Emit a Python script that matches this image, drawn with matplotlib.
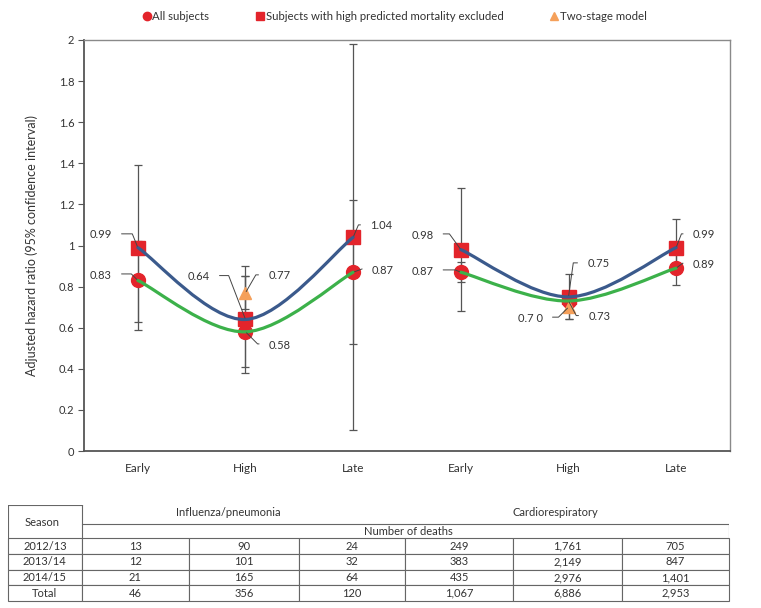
import numpy as np
import matplotlib
matplotlib.use('Agg')
import matplotlib.pyplot as plt
from matplotlib.path import Path
from matplotlib.patches import PathPatch
from matplotlib.lines import Line2D

plt.rcParams['font.family'] = ['Lato', 'DejaVu Sans']

# data: two outcomes x three periods
periods = ['Early', 'High', 'Late']
outcomes = ['Influenza/pneumonia', 'Cardiorespiratory']

all_hr = [0.83, 0.58, 0.87, 0.87, 0.73, 0.89]
all_lo = [0.63, 0.38, 0.10, 0.82, 0.70, 0.81]
all_hi = [1.02, 0.85, 1.22, 0.92, 0.76, 0.97]

excl_hr = [0.99, 0.64, 1.04, 0.98, 0.75, 0.99]
excl_lo = [0.59, 0.41, 0.52, 0.68, 0.64, 0.87]
excl_hi = [1.39, 0.90, 1.98, 1.28, 0.86, 1.13]

two_pos = [1, 4]
two_hr = [0.77, 0.70]
two_lo = [0.69, 0.64]
two_hi = [0.85, 0.77]

all_labels = ['0.83', '0.58', '0.87', '0.87', '0.73', '0.89']
excl_labels = ['0.99', '0.64', '1.04', '0.98', '0.75', '0.99']
two_labels = ['0.77', '0.7 0']

seasons = ['2012/13', '2013/14', '2014/15', 'Total']
flu_deaths = [['13', '90', '24'], ['12', '101', '32'], ['21', '165', '64'], ['46', '356', '120']]
cardio_deaths = [['249', '1,761', '705'], ['383', '2,149', '847'], ['435', '2,976', '1,401'],
                 ['1,067', '6,886', '2,953']]

RED = '#e3242b'
ORANGE = '#f5a05a'
BLUE = '#3b5a8c'
GREEN = '#3cb14a'
GREY = '#555555'


def smooth_path(xs, ys):
    # excel-style smoothed line (bezier through the points)
    pts = list(zip(xs, ys))
    n = len(pts)
    verts = [pts[0]]
    codes = [Path.MOVETO]
    for i in range(n - 1):
        p0 = pts[i - 1] if i > 0 else pts[i]
        p1, p2 = pts[i], pts[i + 1]
        p3 = pts[i + 2] if i + 2 < n else pts[i + 1]
        c1 = (p1[0] + (p2[0] - p0[0]) / 6, p1[1] + (p2[1] - p0[1]) / 6)
        c2 = (p2[0] - (p3[0] - p1[0]) / 6, p2[1] - (p3[1] - p1[1]) / 6)
        verts += [c1, c2, p2]
        codes += [Path.CURVE4] * 3
    return Path(verts, codes)


fig = plt.figure(figsize=(7.61, 6.08), dpi=100)
ax = fig.add_axes([84 / 761, 1 - 451 / 608, 646 / 761, 411 / 608])

x = np.arange(6)
ax.errorbar(x, all_hr, yerr=[np.array(all_hr) - all_lo, np.array(all_hi) - all_hr],
            fmt='none', ecolor=GREY, elinewidth=0.9, capsize=3.2, capthick=0.9, zorder=2)
ax.errorbar(x, excl_hr, yerr=[np.array(excl_hr) - excl_lo, np.array(excl_hi) - excl_hr],
            fmt='none', ecolor=GREY, elinewidth=0.9, capsize=3.2, capthick=0.9, zorder=2)
ax.errorbar(two_pos, two_hr, yerr=[np.array(two_hr) - two_lo, np.array(two_hi) - two_hr],
            fmt='none', ecolor=GREY, elinewidth=0.9, capsize=3.2, capthick=0.9, zorder=2)

ax.plot(x, all_hr, 'o', color=RED, ms=10, mec=RED, zorder=3)
ax.plot(x, excl_hr, 's', color=RED, ms=10.5, mec=RED, zorder=3)
ax.plot(two_pos, two_hr, '^', color=ORANGE, ms=9, mec=ORANGE, zorder=3)

# smoothed lines, one per outcome
for k in range(2):
    sl = slice(3 * k, 3 * k + 3)
    for vals, col in [(excl_hr, BLUE), (all_hr, GREEN)]:
        p = smooth_path(x[sl], vals[sl])
        ax.add_patch(PathPatch(p, fill=False, edgecolor=col, lw=2.3,
                               capstyle='round', zorder=4))

ax.set_xlim(-0.5, 5.5)
ax.set_ylim(0, 2)
ax.set_yticks(np.arange(0, 2.01, 0.2))
ax.set_yticklabels(['%g' % round(v, 1) for v in np.arange(0, 2.01, 0.2)], fontsize=8, color='#333')
ax.set_xticks(x)
ax.set_xticklabels(periods * 2, fontsize=8.5, color='#333')
ax.tick_params(axis='x', length=0, pad=9)
ax.tick_params(axis='y', length=4, width=0.8, color=GREY, pad=3)
ax.set_ylabel('Adjusted hazard ratio (95% confidence interval)', fontsize=9, color='#333', labelpad=15)
for s in ['left', 'bottom']:
    ax.spines[s].set_color('#555555')
    ax.spines[s].set_linewidth(1.3)
for s in ['top', 'right']:
    ax.spines[s].set_color('#8a8a8a')
    ax.spines[s].set_linewidth(1.0)

PX = 0.72  # px -> points


def lead(xv, yv, text, dx, dy, angB, side):
    # label with a leader line; dx, dy in pixels (dy up)
    ha = 'right' if side == 'L' else 'left'
    rel = (1, 0.6) if side == 'L' else (0, 0.6)
    ax.annotate(text, xy=(xv, yv), xytext=(dx * PX, dy * PX), textcoords='offset points',
                ha=ha, va='center', fontsize=8, color='#333', zorder=6,
                arrowprops=dict(arrowstyle='-', color='#444', lw=0.7, relpos=rel,
                                shrinkA=5, shrinkB=1,
                                connectionstyle='angle,angleA=0,angleB=%g,rad=0' % angB))


# influenza / pneumonia
lead(0, excl_hr[0], excl_labels[0], -26, 12.6, 112, 'L')
lead(0, all_hr[0], all_labels[0], -26, 5.4, 135, 'L')
lead(1, excl_hr[1], excl_labels[1], -35.7, 42.8, 111, 'L')
lead(two_pos[0], two_hr[0], two_labels[0], 22.7, 16.8, 60, 'R')
lead(1, all_hr[1], all_labels[1], 23.3, -13.2, -45, 'R')
lead(2, excl_hr[2], excl_labels[2], 17, 11.3, 67, 'R')
lead(2, all_hr[2], all_labels[2], 18.7, 2.2, 20, 'R')
# cardiorespiratory
lead(3, excl_hr[3], excl_labels[3], -27.4, 14.6, 126, 'L')
lead(3, all_hr[3], all_labels[3], -27.4, 1.2, 158, 'L')
lead(4, excl_hr[4], excl_labels[4], 18.7, 32.9, 82, 'R')
lead(4, all_hr[4], all_labels[4], 19.7, -15.7, -62, 'R')
lead(two_pos[1], two_hr[1], two_labels[1], -25.7, -11.1, 45, 'L')
lead(5, excl_hr[5], excl_labels[5], 16.6, 12.6, 69, 'R')
lead(5, all_hr[5], all_labels[5], 16.6, 3.8, 37, 'R')

handles = [Line2D([], [], ls='none', marker='o', color=RED, ms=6),
           Line2D([], [], ls='none', marker='s', color=RED, ms=6),
           Line2D([], [], ls='none', marker='^', color=ORANGE, ms=6)]
fig.legend(handles, ['All subjects', 'Subjects with high predicted mortality excluded', 'Two-stage model'],
           loc='center', bbox_to_anchor=(394 / 761, 1 - 16 / 608), ncol=3, frameon=False,
           fontsize=8.2, handletextpad=0.05, columnspacing=4.0, handlelength=0.9,
           labelcolor='#333')

# table of deaths
tx = fig.add_axes([8 / 761, 1 - 601 / 608, 721 / 761, 96 / 608])
tx.set_xlim(0, 721)
tx.set_ylim(96, 0)
tx.axis('off')
col_edges = [0, 73.7, 181, 291.3, 397, 505.3, 613.7, 721]
widths = np.diff(col_edges) / 721
cells = [[s] + f + c for s, f, c in zip(seasons, flu_deaths, cardio_deaths)]
tab = tx.table(cellText=cells, colWidths=list(widths), cellLoc='center',
               bbox=[0, 0, 1, (96 - 33.3) / 96])
tab.auto_set_font_size(False)
tab.set_fontsize(8)
for key, cell in tab.get_celld().items():
    cell.set_edgecolor('#666666')
    cell.set_linewidth(0.8)
    cell.get_text().set_color('#333')

lc = '#666666'
tx.plot([0, col_edges[1]], [0, 0], color=lc, lw=0.8)
tx.plot([0, 0], [0, 33.3], color=lc, lw=0.8)
tx.plot([col_edges[1], col_edges[1]], [0, 33.3], color=lc, lw=0.8)
tx.plot([col_edges[1], 721], [19.3, 19.3], color=lc, lw=0.8)
tx.plot([721, 721], [19.3, 33.3], color=lc, lw=0.8)
tx.text(34, 18, 'Season', ha='center', va='center', fontsize=8, color='#333')
tx.text(220, 7.7, outcomes[0], ha='center', va='center', fontsize=8, color='#333')
tx.text(547, 7.7, outcomes[1], ha='center', va='center', fontsize=8, color='#333')
tx.text(400, 26.3, 'Number of deaths', ha='center', va='center', fontsize=8, color='#333')

fig.savefig('out.png', dpi=100)
